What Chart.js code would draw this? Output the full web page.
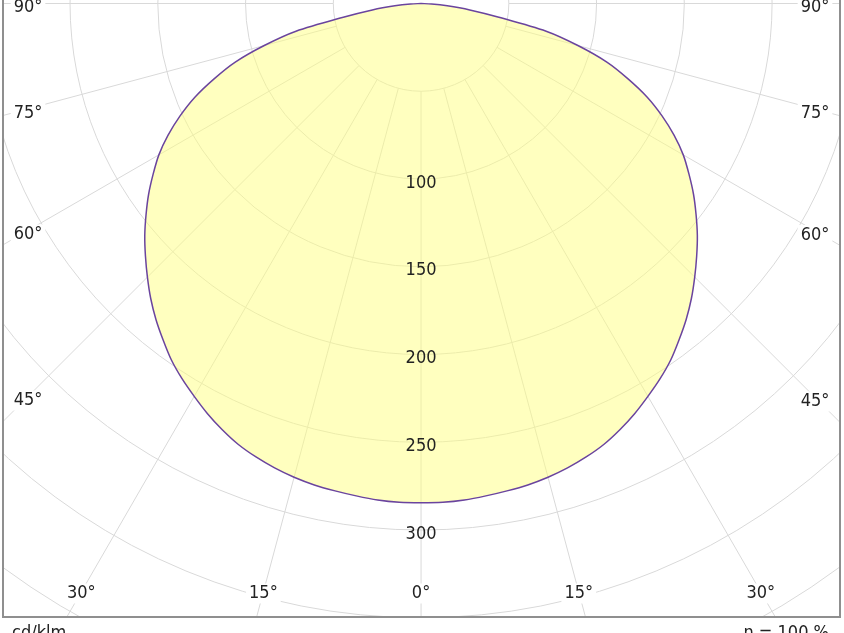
<!DOCTYPE html>
<html>
<head>
<meta charset="utf-8">
<script src="https://cdn.jsdelivr.net/npm/chart.js@4.4.1/dist/chart.umd.min.js"></script>
<style>
  html, body { margin: 0; padding: 0; background: #fff; }
  #wrap { width: 844px; height: 633px; }
</style>
</head>
<body>
<div id="wrap"><canvas id="ldc-canvas" width="844" height="633"></canvas></div>
<script>
// light distribution curve, one half (symmetric), gamma angle from nadir in degrees
const gammaAngles = [0, 2.5, 5, 7.5, 10, 12.5, 15, 17.5, 20, 22.5, 25, 27.5, 30, 32.5, 35, 37.5, 40, 42.5, 45,
  47.5, 50, 52.5, 55, 57.5, 60, 62.5, 65, 67.5, 70, 72.5, 75, 77.5, 80, 82.5, 85, 87.5, 90];
// intensity in cd/klm
const intensity = [284.5, 284.5, 284, 283, 282, 281, 279.5, 277.5, 275, 272, 268, 263.5, 258.5, 253.5, 248, 241.5, 235, 228, 220.5,
  213, 205.5, 197.5, 189.5, 181, 172.5, 162.5, 151.5, 139.5, 125.5, 111, 92.5, 73, 45, 28, 15, 6, 0];

const ringValues = [50, 100, 150, 200, 250, 300, 350, 400, 450];
const ringLabels = [100, 150, 200, 250, 300];
const spokeAngles = [-90, -75, -60, -45, -30, -15, 0, 15, 30, 45, 60, 75, 90];
const unitLabel = 'cd/klm';
const efficiencyLabel = 'η = 100 %';

const labelFont = '18px Tahoma, "DejaVu Sans Condensed", "Liberation Sans", sans-serif';

function polar(deg, r) {
  const a = deg * Math.PI / 180;
  return { x: r * Math.sin(a), y: -r * Math.cos(a) };
}

// left half then right half, so the line goes round the shape
const curvePoints = [];
for (let i = gammaAngles.length - 1; i > 0; i--) {
  curvePoints.push(polar(-gammaAngles[i], intensity[i]));
}
for (let i = 0; i < gammaAngles.length; i++) {
  curvePoints.push(polar(gammaAngles[i], intensity[i]));
}

const polarGrid = {
  id: 'polarGrid',
  beforeDatasetsDraw(chart) {
    const ctx = chart.ctx;
    const area = chart.chartArea;
    const sx = chart.scales.x;
    const sy = chart.scales.y;
    const cx = sx.getPixelForValue(0);
    const cy = sy.getPixelForValue(0);
    const k = sx.getPixelForValue(1) - cx;

    ctx.save();
    ctx.beginPath();
    ctx.rect(area.left, area.top, area.right - area.left, area.bottom - area.top);
    ctx.clip();
    ctx.strokeStyle = '#d9d9d9';
    ctx.lineWidth = 1;

    ringValues.forEach(r => {
      ctx.beginPath();
      ctx.arc(cx, cy, r * k, 0, Math.PI * 2);
      ctx.stroke();
    });

    spokeAngles.forEach(deg => {
      const p0 = polar(deg, ringValues[0]);
      const p1 = polar(deg, 700);
      ctx.beginPath();
      ctx.moveTo(sx.getPixelForValue(p0.x), sy.getPixelForValue(p0.y));
      ctx.lineTo(sx.getPixelForValue(p1.x), sy.getPixelForValue(p1.y));
      ctx.stroke();
    });
    ctx.restore();
  },
  afterDatasetsDraw(chart) {
    const ctx = chart.ctx;
    const area = chart.chartArea;
    const sx = chart.scales.x;
    const sy = chart.scales.y;
    const cx = sx.getPixelForValue(0);
    const cy = sy.getPixelForValue(0);

    ctx.save();
    ctx.font = labelFont;
    ctx.textAlign = 'center';
    ctx.textBaseline = 'middle';
    ctx.fillStyle = '#222';

    // intensity values along the nadir line
    ringLabels.forEach(v => {
      ctx.fillText(String(v), cx, sy.getPixelForValue(-v) + 4);
    });

    // angle labels where the spokes meet the frame
    const inset = 25;
    spokeAngles.forEach(deg => {
      const a = deg * Math.PI / 180;
      const s = Math.sin(a), c = Math.cos(a);
      let x, y, side = true;
      if (s !== 0) {
        x = s > 0 ? area.right - inset : area.left + inset;
        const t = Math.abs(x - cx) / Math.abs(s);
        y = cy + t * c;
      }
      if (s === 0 || y > area.bottom - inset) {
        side = false;
        y = area.bottom - inset;
        x = cx + (y - cy) / c * s;
      }
      const ty = side ? y + 4 : y + 1.5;
      const txt = Math.abs(deg) + '°';
      const w = ctx.measureText(txt).width + 6;
      ctx.fillStyle = '#fff';
      ctx.fillRect(x - w / 2, ty - 10, w, 20);
      ctx.fillStyle = '#222';
      ctx.fillText(txt, x, ty);
    });

    // frame: left, right, bottom
    ctx.strokeStyle = '#8f8f8f';
    ctx.lineWidth = 2;
    ctx.beginPath();
    ctx.moveTo(area.left, area.top);
    ctx.lineTo(area.left, area.bottom);
    ctx.lineTo(area.right, area.bottom);
    ctx.lineTo(area.right, area.top);
    ctx.stroke();

    ctx.textBaseline = 'alphabetic';
    ctx.fillStyle = '#222';
    ctx.textAlign = 'left';
    ctx.fillText(unitLabel, area.left + 9, area.bottom + 21);
    ctx.textAlign = 'right';
    ctx.fillText(efficiencyLabel, area.right - 11, area.bottom + 21);
    ctx.restore();
  }
};

const ctx = document.getElementById('ldc-canvas').getContext('2d');
const ldcChart = new Chart(ctx, {
  type: 'scatter',
  data: {
    datasets: [
      {
        data: curvePoints,
        showLine: true,
        borderColor: '#6a449e',
        borderWidth: 1.5,
        backgroundColor: 'rgba(255, 255, 128, 0.5)',
        fill: 'shape',
        tension: 0.3,
        pointRadius: 0,
        pointHoverRadius: 0,
      },
    ],
  },
  options: {
    responsive: false,
    animation: false,
    events: [],
    layout: {
      padding: { left: 3, right: 4, top: 0, bottom: 16 },
    },
    scales: {
      x: {
        type: 'linear',
        display: false,
        min: -238.2,
        max: 238.7,
      },
      y: {
        type: 'linear',
        display: false,
        min: -349.6,
        max: 2.0,
      },
    },
    plugins: {
      legend: { display: false },
      tooltip: { enabled: false },
    },
  },
  plugins: [polarGrid],
});
</script>
</body>
</html>
